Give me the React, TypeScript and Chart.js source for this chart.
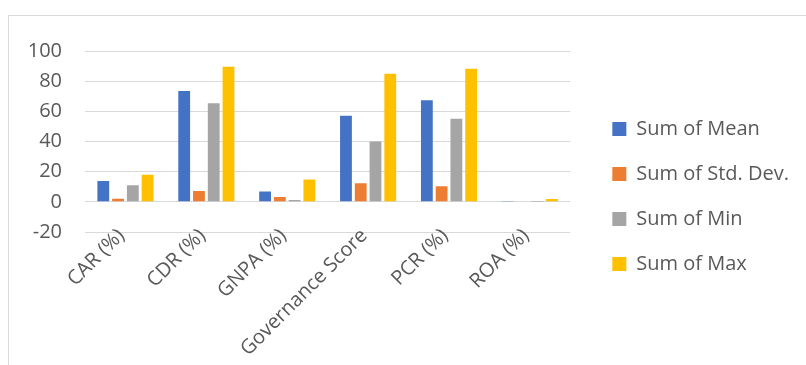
import React, { useEffect, useRef } from "react";
import { Chart, registerables } from "chart.js";

Chart.register(...registerables);

const categories = ["CAR (%)", "CDR (%)", "GNPA (%)", "Governance Score", "PCR (%)", "ROA (%)"];
const meanValues = [13.8, 73.4, 6.9, 57.0, 67.3, 0.2];
const stdDevValues = [2.1, 7.2, 3.2, 12.4, 10.3, 0.4];
const minValues = [11.0, 65.3, 1.2, 40.0, 55.1, 0.1];
const maxValues = [17.9, 89.6, 14.8, 85.0, 88.3, 1.9];
const seriesNames = ["Sum of Mean", "Sum of Std. Dev.", "Sum of Min", "Sum of Max"];
const seriesColors = ["#4472C4", "#ED7D31", "#A5A5A5", "#FFC000"];
const yMin = -20;
const yMax = 100;
const yStep = 20;

const FONT = "'Open Sans', 'Liberation Sans', sans-serif";
const TEXT = "#595959";

const layoutTweaks = {
  id: "layoutTweaks",
  afterLayout(chart: any) {
    if (chart.legend) {
      chart.legend.bottom -= 16;
      chart.legend.height -= 16;
    }
    const xs = chart.scales.x;
    if (xs) xs._computeLabelArea = () => undefined;
  },
};

export default function App() {
  const ref = useRef<HTMLCanvasElement | null>(null);

  useEffect(() => {
    if (!ref.current) return;
    const values = [meanValues, stdDevValues, minValues, maxValues];
    const chart = new Chart(ref.current, {
      type: "bar",
      data: {
        labels: categories,
        datasets: values.map((v, i) => ({
          label: seriesNames[i],
          data: v,
          backgroundColor: seriesColors[i],
          borderWidth: 0,
          barPercentage: 0.8,
          categoryPercentage: 0.73,
        })),
      },
      plugins: [layoutTweaks],
      options: {
        animation: false,
        responsive: false,
        maintainAspectRatio: false,
        layout: { padding: { left: 0, top: 28, right: 7, bottom: 0 } },
        plugins: {
          tooltip: { enabled: false },
          legend: {
            position: "right",
            align: "center",
            maxWidth: 400,
            labels: {
              boxWidth: 14,
              boxHeight: 14,
              padding: 25,
              color: TEXT,
              font: { family: FONT, size: 20 },
            },
          },
        },
        scales: {
          x: {
            grid: { display: false },
            border: { display: false },
            ticks: {
              color: TEXT,
              font: { family: FONT, size: 20 },
              minRotation: 45,
              maxRotation: 45,
              padding: -16,
              labelOffset: -4,
              autoSkip: false,
            },
            afterFit: (s: any) => {
              s.height = 133;
            },
          },
          y: {
            min: yMin,
            max: yMax,
            ticks: {
              stepSize: yStep,
              color: TEXT,
              font: { family: FONT, size: 20 },
              padding: 23,
            },
            grid: { color: "#d9d9d9", lineWidth: 1, drawTicks: false },
            border: { display: false },
            afterFit: (s: any) => {
              s.width = 76;
            },
          },
          y2: {
            type: "linear",
            position: "right",
            display: true,
            grid: { display: false, drawTicks: false },
            ticks: { display: false },
            border: { display: false },
            afterFit: (s: any) => {
              s.width = 17;
            },
          },
        },
      } as any,
    });
    return () => chart.destroy();
  }, []);

  return (
    <div
      style={{
        position: "fixed",
        left: 8,
        top: 15,
        width: 820,
        height: 380,
        border: "1px solid #d9d9d9",
        boxSizing: "border-box",
        background: "#fff",
      }}
    >
      <canvas ref={ref} width={797} height={349} style={{ display: "block", width: 797, height: 349 }} />
    </div>
  );
}
